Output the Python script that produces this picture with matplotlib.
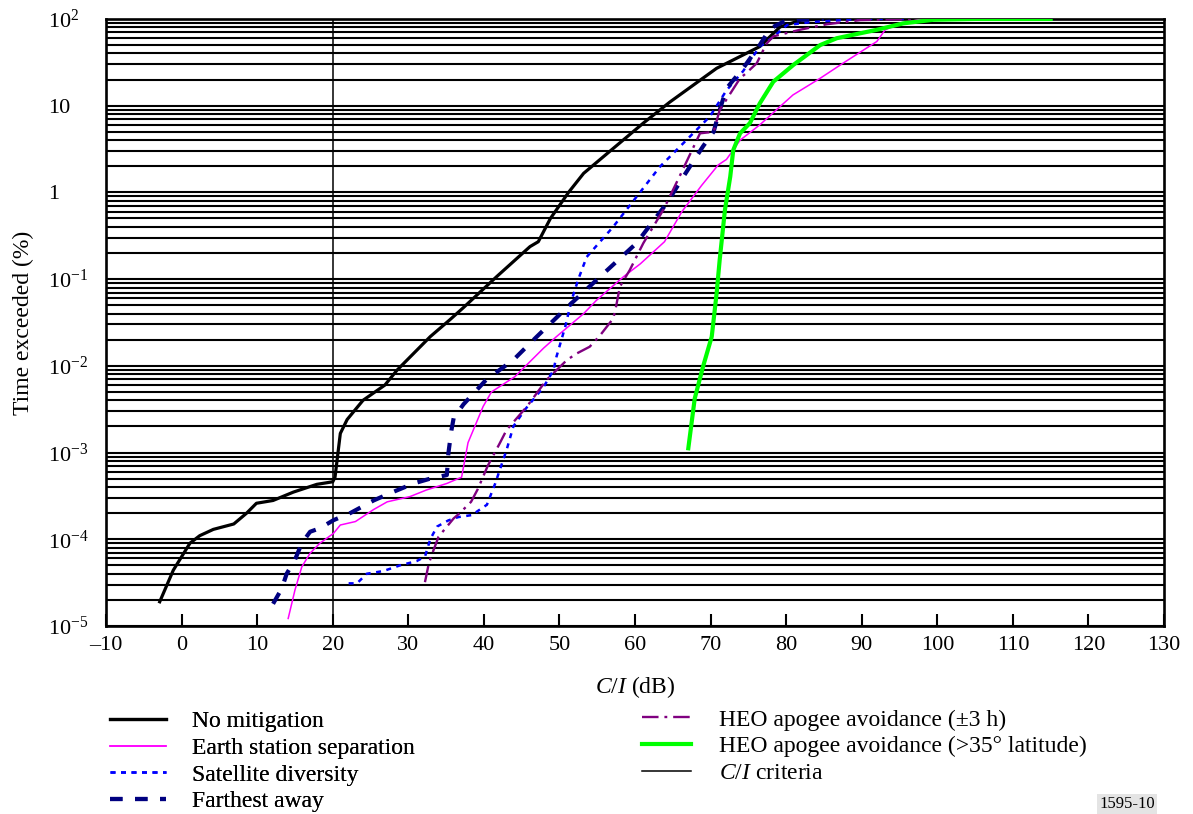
"""C/I exceedance curves for different interference mitigation techniques."""

import matplotlib
matplotlib.use('Agg')
import matplotlib.pyplot as plt
from matplotlib.ticker import FixedLocator, LogLocator, NullFormatter

plt.rcParams['font.family'] = ['Liberation Serif', 'DejaVu Serif']
plt.rcParams['mathtext.fontset'] = 'custom'
plt.rcParams['mathtext.rm'] = 'Liberation Serif'
plt.rcParams['mathtext.it'] = 'Liberation Serif:italic'
plt.rcParams['mathtext.bf'] = 'Liberation Serif:bold'

# --- data (C/I in dB, time exceeded in %) ---
no_mit_x = [-2.9, -1.1, 1.1, 2.4, 4.2, 6.9, 8.6, 9.9, 12.1, 14.8, 17.9, 20.0, 20.3,
            21.0, 21.9, 24.0, 26.9, 28.5, 32.9, 35.5, 37.3, 41.7, 46.1, 47.2, 48.8,
            51.2, 53.2, 56.9, 61.1, 64.6, 70.8, 76.5, 79.2, 82.0, 85.0]
no_mit_y = [1.9e-5, 4.4e-5, 9e-5, 1.1e-4, 1.3e-4, 1.5e-4, 2e-4, 2.6e-4, 2.8e-4, 3.5e-4,
            4.3e-4, 4.6e-4, 5.2e-4, 1.66e-3, 2.4e-3, 4.0e-3, 6.0e-3, 8.9e-3, 0.0217,
            0.034, 0.047, 0.107, 0.237, 0.27, 0.5, 1.0, 1.66, 3.1, 6.3, 11.0, 27.0,
            48.0, 81.0, 97.0, 100.0]

es_sep_x = [14.1, 15.0, 15.9, 17.0, 18.3, 20.1, 21.0, 23.0, 25.4, 27.2, 30.2, 32.4,
            35.1, 37.05, 37.9, 39.9, 41.0, 44.1, 47.9, 49.6, 53.2, 54.9, 58.5, 60.7,
            63.9, 66.2, 68.8, 71.0, 72.1, 73.9, 76.5, 80.9, 84.5, 87.5, 92.0, 93.1,
            95.1, 98.0]
es_sep_y = [1.22e-5, 2.6e-5, 4.8e-5, 6.9e-5, 9e-5, 1.17e-4, 1.46e-4, 1.6e-4, 2.2e-4,
            2.7e-4, 3.1e-4, 3.7e-4, 4.4e-4, 5.2e-4, 1.3e-3, 3.4e-3, 5.0e-3, 7.5e-3,
            0.016, 0.0217, 0.040, 0.057, 0.107, 0.15, 0.27, 0.6, 1.2, 2.07, 2.4, 4.0,
            6.0, 13.3, 20.7, 30.8, 55.0, 75.0, 89.0, 100.0]

sat_div_x = [22.1, 23.2, 24.5, 26.7, 28.9, 31.1, 32.2, 32.9, 33.8, 35.3, 36.6, 38.4,
             40.4, 41.5, 42.1, 43.0, 43.9, 45.4, 47.9, 49.2, 49.6, 50.75, 51.6, 52.5,
             53.6, 57.1, 60.2, 63.3, 66.4, 69.9, 72.1, 74.3, 76.5, 78.3, 80.1, 83.2,
             89.8, 96.4]
sat_div_y = [3.1e-5, 3.1e-5, 4e-5, 4.3e-5, 5e-5, 5.6e-5, 6.3e-5, 1e-4, 1.4e-4, 1.65e-4,
             1.8e-4, 1.9e-4, 2.5e-4, 4.4e-4, 6.3e-4, 1.07e-3, 2e-3, 3.1e-3, 5.7e-3,
             8.9e-3, 0.0127, 0.028, 0.057, 0.10, 0.18, 0.40, 0.89, 1.98, 3.7, 7.5, 15.0,
             25.0, 48.0, 62.0, 85.0, 92.0, 100.0, 100.0]

far_x = [12.1, 13.25, 13.9, 15.0, 15.9, 17.0, 18.3, 20.1, 22.3, 25.4, 27.6, 30.7, 32.9,
         35.1, 35.3, 35.7, 36.0, 37.3, 40.3, 43.9, 47.0, 51.2, 55.4, 60.2, 64.2, 66.4,
         69.0, 70.4, 71.2, 72.1, 74.3, 76.5, 77.9, 80.1, 85.0]
far_y = [1.8e-5, 2.7e-5, 4e-5, 5.8e-5, 9e-5, 1.22e-4, 1.34e-4, 1.66e-4, 2e-4, 2.8e-4,
         3.4e-4, 4.4e-4, 5.0e-4, 5.5e-4, 9.8e-4, 1.8e-3, 2.5e-3, 3.6e-3, 6.9e-3, 0.0117,
         0.0217, 0.049, 0.107, 0.26, 0.75, 1.52, 3.4, 5.0, 8.9, 15.8, 27.0, 50.0, 78.0,
         97.0, 100.0]

heo3h_x = [32.2, 32.7, 33.1, 34.0, 36.0, 36.8, 38.3, 39.2, 40.5, 42.1, 43.0, 45.7, 48.3,
           51.0, 52.3, 54.0, 55.4, 57.1, 57.4, 58.0, 59.3, 61.1, 63.75, 66.0, 68.6,
           70.4, 71.2, 73.9, 74.7, 76.1, 77.4, 78.3, 81.8, 85.4, 89.8, 97.0]
heo3h_y = [3.2e-5, 5.2e-5, 6.6e-5, 1.07e-4, 1.74e-4, 2.0e-4, 2.7e-4, 3.8e-4, 7.0e-4,
           1.28e-3, 1.82e-3, 3.4e-3, 6.9e-3, 0.0117, 0.0139, 0.0166, 0.0226, 0.035,
           0.044, 0.082, 0.127, 0.26, 0.63, 1.6, 4.8, 5.0, 8.9, 20.7, 23.7, 30.8, 52.0,
           63.0, 75.0, 87.0, 97.0, 100.0]

heo35_x = [67.05, 67.9, 69.0, 70.15, 70.8, 71.2, 71.9, 72.6, 73.0, 73.9, 75.2, 76.5,
           78.3, 80.95, 84.5, 86.7, 92.0, 95.5, 99.5, 105.0, 115.0]
heo35_y = [1.12e-3, 4.2e-3, 9.8e-3, 0.0217, 0.069, 0.166, 0.63, 1.52, 3.08, 4.8, 6.3,
           10.6, 18.9, 29.5, 50.0, 60.0, 75.0, 89.0, 98.0, 100.0, 100.0]

ci_criteria = 20

x_ticks = list(range(-10, 131, 10))
x_labels = [str(t).replace('-', '\u2013') for t in x_ticks]
y_ticks = [1e-5, 1e-4, 1e-3, 1e-2, 1e-1, 1, 10, 100]
y_labels = ['$10^{-5}$', '$10^{-4}$', '$10^{-3}$', '$10^{-2}$', '$10^{-1}$',
            '1', '10', '$10^{2}$']

fig = plt.figure(figsize=(11.93, 8.14), dpi=100)
ax = fig.add_axes([0.0889, 0.231, 0.8868, 0.7457])

# horizontal log grid
ax.set_yscale('log')
ax.set_xlim(-10, 130)
ax.set_ylim(1e-5, 1e2)
ax.yaxis.set_major_locator(FixedLocator(y_ticks))
ax.yaxis.set_minor_locator(LogLocator(base=10, subs=range(2, 10), numticks=20))
ax.yaxis.set_minor_formatter(NullFormatter())
ax.set_yticklabels(y_labels)
ax.yaxis.grid(True, which='both', color='black', linewidth=1.5, zorder=1)
ax.set_axisbelow(True)

ax.set_xticks(x_ticks)
ax.set_xticklabels(x_labels)

l1, = ax.plot(no_mit_x, no_mit_y, color='black', linewidth=2.3, zorder=4)
l2, = ax.plot(es_sep_x, es_sep_y, color='#ff00ff', linewidth=1.1, zorder=4)
l3, = ax.plot(sat_div_x, sat_div_y, color='#0000ff', linewidth=1.8,
              dashes=(2, 2.2), zorder=4)
l4, = ax.plot(far_x, far_y, color='#000080', linewidth=3.0, dashes=(3, 3), zorder=4)
l5, = ax.plot(heo3h_x, heo3h_y, color='#800080', linewidth=1.7,
              dashes=(7, 2.5, 1.2, 2.5), zorder=4)
l6, = ax.plot(heo35_x, heo35_y, color='#00ff00', linewidth=3.0, zorder=5)
l7 = ax.axvline(ci_criteria, color='black', linewidth=1.1, zorder=3)

ax.set_xlabel('$C$/$I$ (dB)', fontsize=17, labelpad=14)
ax.set_ylabel('Time exceeded (%)', fontsize=17, labelpad=10)

ax.tick_params(axis='x', direction='in', length=9, width=1.5, pad=7, labelsize=16,
               top=False)
ax.tick_params(axis='y', which='both', length=0, pad=42, labelsize=16)
for lab in ax.get_yticklabels():
    lab.set_horizontalalignment('left')
for s in ax.spines.values():
    s.set_linewidth(1.9)

leg1 = fig.legend([l1, l2, l3, l4],
                  ['No mitigation', 'Earth station separation',
                   'Satellite diversity', 'Farthest away'],
                  loc='upper left', bbox_to_anchor=(0.092, 0.127), frameon=False,
                  fontsize=17, handlelength=2.4, handletextpad=1.1,
                  labelspacing=0.22, borderpad=0, borderaxespad=0)
leg2 = fig.legend([l5, l6, l7],
                  ['HEO apogee avoidance (\u00b13 h)',
                   'HEO apogee avoidance (>35\u00b0 latitude)',
                   '$C$/$I$ criteria'],
                  loc='upper left', bbox_to_anchor=(0.538, 0.129), frameon=False,
                  fontsize=17, handlelength=2.1, handletextpad=1.15,
                  labelspacing=0.22, borderpad=0, borderaxespad=0)
fig.add_artist(leg1)

fig.text(0.968, 0.003, '1595-10', ha='right', va='bottom', fontsize=12,
         bbox=dict(facecolor='#e4e4e4', edgecolor='none', pad=1.5))

fig.savefig('out.png', dpi=100, facecolor='white')
plt.close(fig)
